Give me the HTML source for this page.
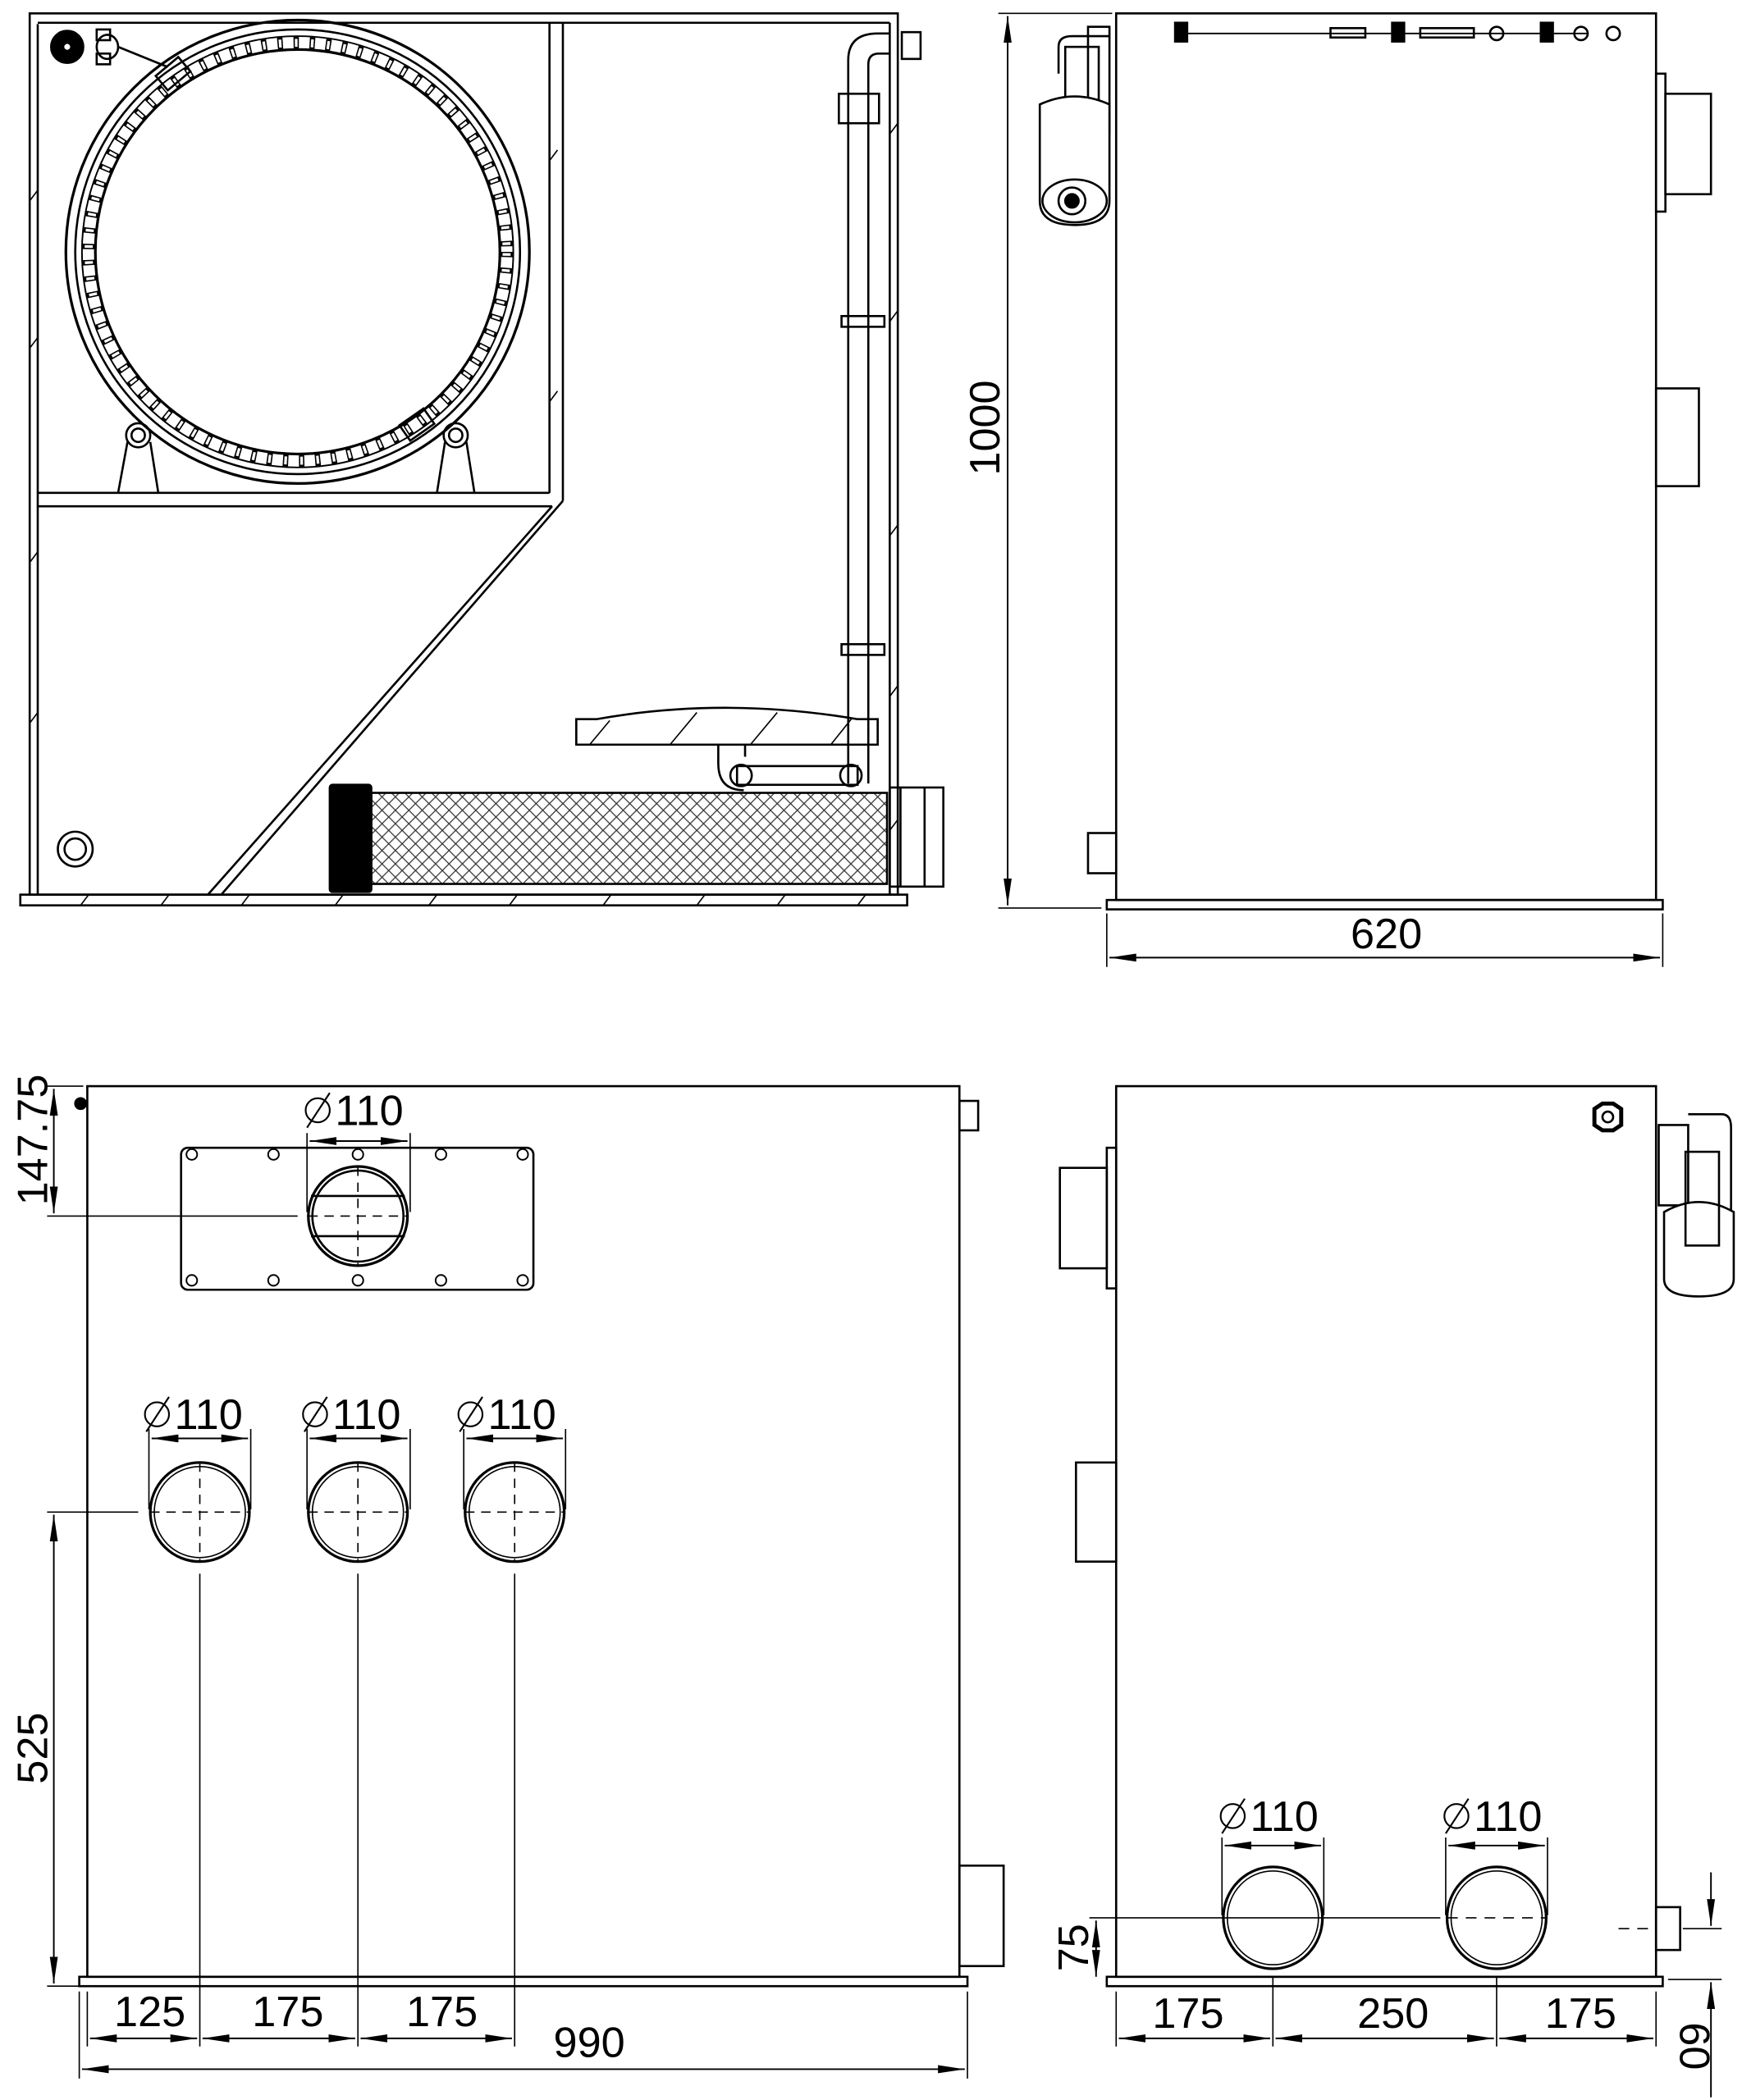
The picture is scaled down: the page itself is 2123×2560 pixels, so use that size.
<!DOCTYPE html>
<html><head><meta charset="utf-8"><style>
html,body{margin:0;padding:0;background:#fff;}
svg{display:block;}
text{font-family:"Liberation Sans","DejaVu Sans",sans-serif;font-size:32px;fill:#000;}
</style></head><body>
<svg width="2123" height="2560" viewBox="0 0 1300 1568" xmlns="http://www.w3.org/2000/svg">
<defs>
<marker id="a" viewBox="0 0 20 8" refX="20" refY="4" markerWidth="20" markerHeight="8" markerUnits="userSpaceOnUse" orient="auto-start-reverse"><path d="M0,1 L20,4 L0,7 Z" fill="#000"/></marker>
<pattern id="mesh" width="10" height="10" patternUnits="userSpaceOnUse"><path d="M0,0 L10,10 M10,0 L0,10" stroke="#333" stroke-width="0.8"/></pattern>
</defs>
<g fill="none" stroke="#000" stroke-width="1.6">
<!-- ===== TOP-LEFT SECTION VIEW ===== -->
<rect x="22" y="10" width="648" height="658"/>
<line x1="28" y1="18" x2="28" y2="668"/>
<line x1="28" y1="17" x2="664" y2="17"/>
<line x1="664" y1="17" x2="664" y2="668"/>
<rect x="15" y="668" width="662" height="8"/>
<g stroke-width="1"><path d="M60,676 l6,-8 M120,676 l6,-8 M180,676 l6,-8 M250,676 l6,-8 M320,676 l6,-8 M380,676 l6,-8 M450,676 l6,-8 M520,676 l6,-8 M580,676 l6,-8 M640,676 l6,-8"/>
<path d="M22,150 l6,-8 M22,260 l6,-8 M22,420 l6,-8 M22,540 l6,-8 M664,100 l6,-8 M664,240 l6,-8 M664,400 l6,-8 M664,520 l6,-8 M664,620 l6,-8 M410,120 l6,-8 M410,300 l6,-8"/></g>
<line x1="410" y1="17" x2="410" y2="368"/>
<line x1="420" y1="17" x2="420" y2="374"/>
<line x1="28" y1="368" x2="410" y2="368"/>
<line x1="28" y1="378" x2="412" y2="378"/>
<line x1="412" y1="378" x2="155" y2="668"/>
<line x1="420" y1="374" x2="165" y2="668"/>
<!-- drum -->
<circle cx="222" cy="188" r="173" stroke-width="2"/>
<circle cx="222" cy="188" r="166"/>
<circle cx="222" cy="188" r="161" stroke-width="1.2"/>
<circle cx="222" cy="188" r="151" stroke-width="2"/>
<circle cx="222" cy="188" r="156" stroke-width="9" stroke-dasharray="4 8"/>
<circle cx="222" cy="188" r="156" stroke-width="6" stroke="#fff" stroke-dasharray="2 10" stroke-dashoffset="-1"/>
<circle cx="103" cy="325" r="9"/><circle cx="103" cy="325" r="5"/>
<circle cx="340" cy="325" r="9"/><circle cx="340" cy="325" r="5"/>
<path d="M95,330 L88,368 M112,330 L118,368 M332,330 L326,368 M348,330 L354,368"/>
<rect x="300" y="310" width="22" height="14" transform="rotate(-35 311 317)"/>
<rect x="118" y="48" width="22" height="14" transform="rotate(-40 129 55)"/>
<circle cx="50" cy="35" r="12" fill="#000"/><circle cx="50" cy="35" r="3" fill="#fff"/>
<rect x="72" y="22" width="10" height="8"/><rect x="72" y="40" width="10" height="8"/><ellipse cx="80" cy="35" rx="8" ry="9"/><path d="M88,35 L125,50"/>
<circle cx="56" cy="634" r="13"/><circle cx="56" cy="634" r="8"/>
<!-- pipe -->
<path d="M633,585 L633,45 Q633,25 655,25 L664,25 M648,585 L648,48 Q648,40 656,40 L664,40"/>
<rect x="626" y="70" width="30" height="22"/>
<rect x="628" y="236" width="32" height="8"/>
<rect x="628" y="481" width="32" height="8"/>
<rect x="673" y="24" width="14" height="20"/>
<path d="M430,537 L445,537 Q540,520 640,537 L655,537 L655,556 L430,556 Z"/>
<g stroke-width="1"><path d="M440,556 l15,-18 M500,556 l20,-24 M560,556 l20,-24 M620,556 l16,-20"/></g>
<path d="M536,556 L536,570 Q536,590 555,590 M556,556 L556,565"/>
<rect x="550" y="572" width="90" height="14"/>
<circle cx="553" cy="579" r="8"/><circle cx="635" cy="579" r="8"/>
<rect x="277" y="592" width="385" height="68" fill="url(#mesh)"/>
<rect x="246" y="586" width="31" height="80" rx="2" fill="#000"/>
<rect x="664" y="588" width="40" height="74"/>
<line x1="672" y1="588" x2="672" y2="662"/><line x1="690" y1="588" x2="690" y2="662"/>

<!-- ===== TOP-RIGHT VIEW ===== -->
<rect x="833" y="10" width="403" height="662"/>
<rect x="826" y="672" width="415" height="7"/>
<path d="M880,25 L1185,25" stroke-width="1.2"/>
<rect x="877" y="17" width="9" height="14" fill="#000"/><rect x="1039" y="17" width="9" height="14" fill="#000"/><rect x="1150" y="17" width="9" height="14" fill="#000"/>
<rect x="993" y="21" width="26" height="7"/><rect x="1060" y="21" width="40" height="7"/>
<circle cx="1117" cy="25" r="5"/><circle cx="1180" cy="25" r="5"/><circle cx="1204" cy="25" r="5"/>
<rect x="1236" y="55" width="7" height="103"/><rect x="1243" y="70" width="34" height="75"/>
<rect x="1236" y="290" width="32" height="73"/>
<rect x="812" y="622" width="21" height="30"/>
<path d="M790,55 L790,35 Q790,27 800,27 L828,27"/>
<rect x="795" y="35" width="25" height="50"/><rect x="812" y="20" width="16" height="80"/>
<path d="M776,78 L776,150 Q776,168 802,168 Q828,168 828,150 L828,78 Q802,66 776,78 Z" fill="#fff"/>
<ellipse cx="802" cy="150" rx="24" ry="16"/>
<circle cx="800" cy="150" r="10"/><circle cx="800" cy="150" r="5" fill="#000"/>
<line x1="745" y1="10" x2="830" y2="10" stroke-width="1"/>
<line x1="745" y1="678" x2="822" y2="678" stroke-width="1"/>
<line x1="752" y1="12" x2="752" y2="676" stroke-width="1.2" marker-start="url(#a)" marker-end="url(#a)"/>
<line x1="826" y1="682" x2="826" y2="722" stroke-width="1"/>
<line x1="1241" y1="682" x2="1241" y2="722" stroke-width="1"/>
<line x1="828" y1="715" x2="1239" y2="715" stroke-width="1.2" marker-start="url(#a)" marker-end="url(#a)"/>

<!-- ===== BOTTOM-LEFT VIEW ===== -->
<rect x="65" y="811" width="651" height="665"/>
<rect x="59" y="1476" width="663" height="7"/>
<rect x="716" y="1393" width="33" height="75"/>
<rect x="716" y="822" width="14" height="22"/>
<circle cx="60" cy="824" r="4" fill="#000"/>
<rect x="135" y="857" width="263" height="106" rx="5"/>
<g stroke-width="1.2">
<circle cx="143" cy="862" r="4"/><circle cx="204" cy="862" r="4"/><circle cx="267" cy="862" r="4"/><circle cx="329" cy="862" r="4"/><circle cx="390" cy="862" r="4"/>
<circle cx="143" cy="956" r="4"/><circle cx="204" cy="956" r="4"/><circle cx="267" cy="956" r="4"/><circle cx="329" cy="956" r="4"/><circle cx="390" cy="956" r="4"/>
</g>
<circle cx="267" cy="908" r="37" stroke-width="2"/><circle cx="267" cy="908" r="34"/>
<path d="M232,893 L302,893 M232,923 L302,923"/>
<g stroke-width="2"><circle cx="149" cy="1129" r="37"/><circle cx="267" cy="1129" r="37"/><circle cx="384" cy="1129" r="37"/></g>
<g stroke-width="1"><circle cx="149" cy="1129" r="34"/><circle cx="267" cy="1129" r="34"/><circle cx="384" cy="1129" r="34"/></g>
<g stroke-width="1" stroke-dasharray="7 5">
<path d="M230,908 L304,908 M267,871 L267,945"/>
<path d="M112,1129 L186,1129 M149,1092 L149,1166 M230,1129 L304,1129 M267,1092 L267,1166 M347,1129 L421,1129 M384,1092 L384,1166"/>
</g>
<g stroke-width="1">
<path d="M229,905 L229,846 M306,905 L306,846 M111,1127 L111,1067 M187,1127 L187,1067 M229,1127 L229,1067 M306,1127 L306,1067 M346,1127 L346,1067 M422,1127 L422,1067"/>
<path d="M35,811 L62,811 M35,908 L222,908 M35,1129 L103,1129 M35,1483 L59,1483"/>
<path d="M149,1175 L149,1528 M267,1175 L267,1528 M384,1175 L384,1528 M59,1487 L59,1552 M722,1487 L722,1552 M65,1487 L65,1528"/>
</g>
<g stroke-width="1.2">
<line x1="231" y1="852" x2="304" y2="852" marker-start="url(#a)" marker-end="url(#a)"/>
<line x1="113" y1="1074" x2="185" y2="1074" marker-start="url(#a)" marker-end="url(#a)"/>
<line x1="231" y1="1074" x2="304" y2="1074" marker-start="url(#a)" marker-end="url(#a)"/>
<line x1="348" y1="1074" x2="420" y2="1074" marker-start="url(#a)" marker-end="url(#a)"/>
<line x1="40" y1="813" x2="40" y2="906" marker-start="url(#a)" marker-end="url(#a)"/>
<line x1="40" y1="1131" x2="40" y2="1481" marker-start="url(#a)" marker-end="url(#a)"/>
<line x1="67" y1="1522" x2="147" y2="1522" marker-start="url(#a)" marker-end="url(#a)"/>
<line x1="151" y1="1522" x2="265" y2="1522" marker-start="url(#a)" marker-end="url(#a)"/>
<line x1="269" y1="1522" x2="382" y2="1522" marker-start="url(#a)" marker-end="url(#a)"/>
<line x1="61" y1="1545" x2="720" y2="1545" marker-start="url(#a)" marker-end="url(#a)"/>
</g>

<!-- ===== BOTTOM-RIGHT VIEW ===== -->
<rect x="833" y="811" width="403" height="665"/>
<rect x="826" y="1476" width="415" height="7"/>
<rect x="826" y="857" width="7" height="105"/><rect x="791" y="872" width="35" height="75"/>
<rect x="803" y="1092" width="30" height="74"/>
<rect x="1236" y="1424" width="18" height="32"/>
<path d="M1190,828 l6,-4 h8 l6,4 v12 l-6,4 h-8 l-6,-4 Z" stroke-width="3"/><circle cx="1200" cy="834" r="4"/>
<rect x="1238" y="840" width="22" height="60"/>
<path d="M1260,832 L1285,832 Q1292,832 1292,842 L1292,910"/>
<path d="M1242,905 L1242,955 Q1242,968 1268,968 Q1294,968 1294,955 L1294,905 Q1268,890 1242,905 Z" fill="#fff"/>
<rect x="1258" y="860" width="25" height="70"/>
<g stroke-width="2"><ellipse cx="950" cy="1432" rx="37" ry="38"/><ellipse cx="1117" cy="1432" rx="37" ry="38"/></g>
<g stroke-width="1"><ellipse cx="950" cy="1432" rx="34" ry="35"/><ellipse cx="1117" cy="1432" rx="34" ry="35"/></g>
<g stroke-width="1">
<path d="M813,1432 L1075,1432"/>
<path d="M1080,1432 L1155,1432 M1208,1440 L1236,1440" stroke-dasharray="8 6"/>
<path d="M1256,1440 L1285,1440 M1245,1478 L1285,1478"/>
<path d="M912,1430 L912,1372 M988,1430 L988,1372 M1079,1430 L1079,1372 M1155,1430 L1155,1372"/>
<path d="M833,1487 L833,1528 M950,1476 L950,1528 M1117,1476 L1117,1528 M1236,1487 L1236,1528"/>
</g>
<g stroke-width="1.2">
<line x1="914" y1="1378" x2="986" y2="1378" marker-start="url(#a)" marker-end="url(#a)"/>
<line x1="1081" y1="1378" x2="1153" y2="1378" marker-start="url(#a)" marker-end="url(#a)"/>
<line x1="818" y1="1434" x2="818" y2="1476" marker-start="url(#a)" marker-end="url(#a)"/>
<line x1="835" y1="1522" x2="948" y2="1522" marker-start="url(#a)" marker-end="url(#a)"/>
<line x1="952" y1="1522" x2="1115" y2="1522" marker-start="url(#a)" marker-end="url(#a)"/>
<line x1="1119" y1="1522" x2="1234" y2="1522" marker-start="url(#a)" marker-end="url(#a)"/>
<line x1="1277" y1="1398" x2="1277" y2="1438" marker-end="url(#a)"/>
<line x1="1277" y1="1530" x2="1277" y2="1480" marker-end="url(#a)"/>
<line x1="1277" y1="1530" x2="1277" y2="1566"/>
</g>
<g stroke-width="1.3">
<circle cx="237" cy="829" r="9"/><line x1="229" y1="842" x2="246" y2="816"/>
<circle cx="117" cy="1056" r="9"/><line x1="109" y1="1069" x2="126" y2="1043"/>
<circle cx="235" cy="1056" r="9"/><line x1="227" y1="1069" x2="244" y2="1043"/>
<circle cx="351" cy="1056" r="9"/><line x1="343" y1="1069" x2="360" y2="1043"/>
<circle cx="920" cy="1356" r="9"/><line x1="912" y1="1369" x2="929" y2="1343"/>
<circle cx="1087" cy="1356" r="9"/><line x1="1079" y1="1369" x2="1096" y2="1343"/>
</g>
</g>
<text x="250" y="840">110</text>
<text x="130" y="1067">110</text>
<text x="248" y="1067">110</text>
<text x="364" y="1067">110</text>
<text x="933" y="1367">110</text>
<text x="1100" y="1367">110</text>
<text x="1008" y="708">620</text>
<text x="85" y="1513">125</text>
<text x="188" y="1513">175</text>
<text x="303" y="1513">175</text>
<text x="413" y="1536">990</text>
<text x="860" y="1514">175</text>
<text x="1013" y="1514">250</text>
<text x="1153" y="1514">175</text>
<text transform="translate(746,355) rotate(-90)">1000</text>
<text transform="translate(35,900) rotate(-90)">147.75</text>
<text transform="translate(35,1332) rotate(-90)">525</text>
<text transform="translate(812,1472) rotate(-90)">75</text>
<text transform="translate(1254,1510) rotate(90)">60</text>
</svg>
</body></html>
